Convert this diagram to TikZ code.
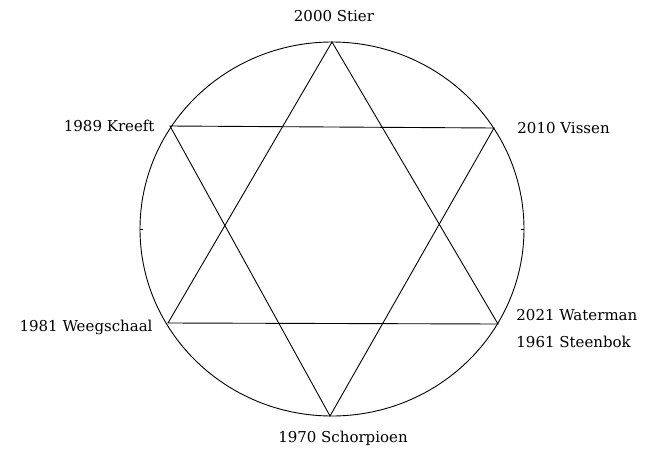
\documentclass[tikz,border=0pt]{standalone}
\usepackage{fontspec}
\setmainfont{DejaVu Serif}
\usetikzlibrary{positioning}

\begin{document}
\begin{tikzpicture}[x=1pt,y=-1pt,line width=0.9pt,
		jaar/.style={font=\fontsize{15}{18}\selectfont,inner sep=0pt}]
		
		\useasboundingbox (0,0) rectangle (657,453);
		
		\draw (332,229)
		ellipse [x radius=192pt, y radius=187pt];
		
		\draw (140,229) -- (143,229);
		\draw (524,229) -- (521,229);
		
		\coordinate (boven) at (332,42);
		\coordinate (linksonder) at (168,323);
		\coordinate (rechtsonder) at (498,324);
		
		\coordinate (onder) at (330,416);
		\coordinate (linksboven) at (170,126);
		\coordinate (rechtsboven) at (494,128);
		
		\draw (boven) -- (linksonder) -- (rechtsonder) -- cycle;
		\draw (onder) -- (linksboven) -- (rechtsboven) -- cycle;
		
		\node[jaar,above=20pt of boven,xshift=2pt]
		(stier) {2000 Stier};
		
		\node[jaar,left=15pt of linksboven]
		(kreeft) {1989 Kreeft};
		
		\node[jaar,right=23pt of rechtsboven]
		(vissen) {2010 Vissen};
		
		\node[jaar,left=15pt of linksonder,yshift=-4pt]
		(weegschaal) {1981 Weegschaal};
		
		\node[jaar,anchor=west]
		at (516,315)
		(waterman) {2021 Waterman};
		
		\node[jaar,anchor=west]
		at (516,342)
		(steenbok) {1961 Steenbok};
		
		\node[jaar,below=15pt of onder,xshift=13pt]
		(schorpioen) {1970 Schorpioen};
		
	\end{tikzpicture}
\end{document}
